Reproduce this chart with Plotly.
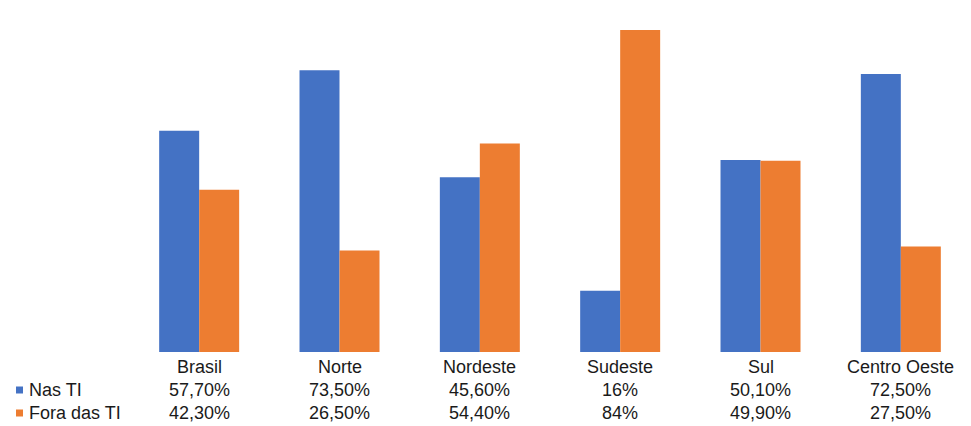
import plotly.graph_objects as go

categories = ["Brasil", "Norte", "Nordeste", "Sudeste", "Sul", "Centro Oeste"]
nas_ti = [57.7, 73.5, 45.6, 16, 50.1, 72.5]
fora_ti = [42.3, 26.5, 54.4, 84, 49.9, 27.5]
series_names = ["Nas TI", "Fora das TI"]

BLUE = "#4472C4"
ORANGE = "#ED7D31"
W, H = 971, 426
ML, MR, MT, MB = 129, 0, 0, 74
PW, PH = W - ML - MR, H - MT - MB


def fmt(v):
    if float(v).is_integer():
        return f"{int(v)}%"
    return f"{v:.2f}".replace(".", ",") + "%"


def py(pix):  # pixel y -> paper y
    return (H - MB - pix) / PH


def px(pix):  # pixel x -> paper x
    return (pix - ML) / PW


fig = go.Figure()
fig.add_trace(go.Bar(x=categories, y=nas_ti, name=series_names[0], marker_color=BLUE,
                     marker_line_width=0))
fig.add_trace(go.Bar(x=categories, y=fora_ti, name=series_names[1], marker_color=ORANGE,
                     marker_line_width=0))

font = dict(family="Liberation Sans, Arial, sans-serif", size=18, color="#1a1a1a")
ann = []
for i, c in enumerate(categories):
    ann.append(dict(x=c, y=py(367), xref="x", yref="paper", text=c, showarrow=False,
                    font=font, xanchor="center", yanchor="middle"))
    ann.append(dict(x=c, y=py(390), xref="x", yref="paper", text=fmt(nas_ti[i]), showarrow=False,
                    font=font, xanchor="center", yanchor="middle"))
    ann.append(dict(x=c, y=py(413), xref="x", yref="paper", text=fmt(fora_ti[i]), showarrow=False,
                    font=font, xanchor="center", yanchor="middle"))
for name, yy in zip(series_names, [390, 413]):
    ann.append(dict(x=px(27), y=py(yy), xref="paper", yref="paper", text=name, showarrow=False,
                    font=font, xanchor="left", yanchor="middle"))

shapes = []
for col, yy in zip([BLUE, ORANGE], [390, 413]):
    shapes.append(dict(type="rect", xref="paper", yref="paper",
                       x0=px(16), x1=px(23), y0=py(yy + 3.5), y1=py(yy - 3.5),
                       fillcolor=col, line_width=0))

fig.update_layout(
    width=W, height=H,
    margin=dict(l=ML, r=MR, t=MT, b=MB),
    paper_bgcolor="white", plot_bgcolor="white",
    barmode="group", bargap=0.43, bargroupgap=0,
    showlegend=False,
    xaxis=dict(showticklabels=False, showgrid=False, zeroline=False, showline=False, ticks=""),
    yaxis=dict(range=[0, 91.8], visible=False),
    annotations=ann, shapes=shapes,
)
fig.write_html("out.html", config={"displayModeBar": False},
               post_script="document.body.style.margin='0';document.body.style.overflow='hidden';")
